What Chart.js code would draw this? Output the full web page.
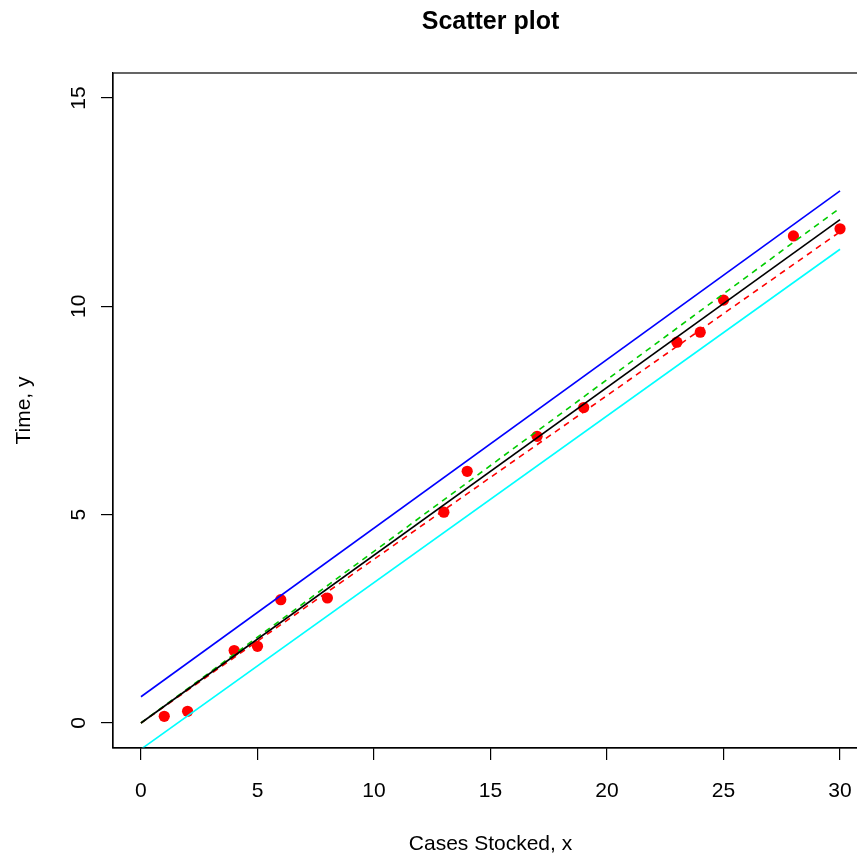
<!DOCTYPE html>
<html lang="en">
<head>
    <meta charset="UTF-8">
    <title>Scatter plot</title>
    <script src="https://cdn.jsdelivr.net/npm/chart.js"></script>
    <style>
        html, body { margin: 0; padding: 0; overflow: hidden; background: #fff; }
        #scatterChart { position: absolute; left: 0; top: 0; }
    </style>
</head>
<body>

<canvas id="scatterChart" width="880" height="870"></canvas>

<script>
    // Shelf stocking data: cases stocked (x) and time in minutes (y)
    const casesStocked = [25, 6, 8, 17, 2, 13, 23, 30, 28, 14, 19, 4, 24, 1, 5];
    const timeTaken = [10.15, 2.96, 3.00, 6.88, 0.28, 5.06, 9.14, 11.86, 11.69, 6.04, 7.57, 1.74, 9.38, 0.16, 1.84];

    // Straight lines, read at x = 0 and x = 30
    const lineX = [0, 30];
    const fitLine = [0, 12.08];       // black
    const upperBand = [0.63, 12.77];  // blue
    const lowerBand = [-0.63, 11.37]; // cyan
    const upperSlope = [0, 12.36];    // green dashed
    const lowerSlope = [0, 11.79];    // red dashed

    // Axis ticks
    const xTicks = [0, 5, 10, 15, 20, 25, 30];
    const yTicks = [0, 5, 10, 15];

    const fontFamily = "'Liberation Sans', Arial, Helvetica, sans-serif";

    function toPoints(xs, ys) {
        return xs.map((x, i) => ({ x: x, y: ys[i] }));
    }

    function lineSet(ys, color, dash) {
        return {
            type: 'line',
            data: toPoints(lineX, ys),
            borderColor: color,
            borderWidth: 1.6,
            borderDash: dash || [],
            pointRadius: 0,
            fill: false,
            tension: 0
        };
    }

    // Box around the plot region, like R's box()
    const plotBox = {
        id: 'plotBox',
        afterDraw(chart) {
            const a = chart.chartArea;
            const ctx = chart.ctx;
            ctx.save();
            ctx.strokeStyle = '#000';
            ctx.lineWidth = 1.2;
            ctx.strokeRect(a.left, a.top, a.right - a.left, a.bottom - a.top);
            ctx.restore();
        }
    };

    const ctx = document.getElementById('scatterChart').getContext('2d');
    const chart = new Chart(ctx, {
        type: 'scatter',
        data: {
            datasets: [
                lineSet(fitLine, '#000000'),
                lineSet(upperBand, '#0000FF'),
                lineSet(lowerBand, '#00FFFF'),
                lineSet(upperSlope, '#00CD00', [6, 5]),
                lineSet(lowerSlope, '#FF0000', [6, 5]),
                {
                    type: 'scatter',
                    data: toPoints(casesStocked, timeTaken),
                    backgroundColor: '#FF0000',
                    borderColor: '#FF0000',
                    borderWidth: 0,
                    pointRadius: 5.6
                }
            ]
        },
        options: {
            responsive: false,
            animation: false,
            devicePixelRatio: 1,
            layout: { padding: { left: 0, top: 0, right: 12, bottom: 0 } },
            plugins: {
                legend: { display: false },
                tooltip: { enabled: false },
                title: {
                    display: true,
                    fullSize: false,
                    text: 'Scatter plot',
                    color: '#000',
                    font: { family: fontFamily, size: 25, weight: 'bold' },
                    padding: { top: 7, bottom: 36 }
                }
            },
            scales: {
                x: {
                    type: 'linear',
                    min: -1.2,
                    max: 31.2,
                    afterBuildTicks: s => { s.ticks = xTicks.map(v => ({ value: v })); },
                    afterFit: s => { s.height = 122; },
                    grid: { drawOnChartArea: false, drawTicks: true, tickLength: 12, color: '#000', lineWidth: 1.2 },
                    border: { display: true, color: '#000', width: 1.2 },
                    ticks: {
                        autoSkip: false,
                        maxRotation: 0,
                        padding: 19,
                        color: '#000',
                        font: { family: fontFamily, size: 21 }
                    },
                    title: {
                        display: true,
                        text: 'Cases Stocked, x',
                        color: '#000',
                        font: { family: fontFamily, size: 21 },
                        padding: { top: 0, bottom: 13 }
                    }
                },
                y: {
                    type: 'linear',
                    min: -0.6,
                    max: 15.6,
                    afterBuildTicks: s => { s.ticks = yTicks.map(v => ({ value: v })); },
                    afterFit: s => { s.width = 113; },
                    grid: { drawOnChartArea: false, drawTicks: true, tickLength: 12, color: '#000', lineWidth: 1.2 },
                    border: { display: true, color: '#000', width: 1.2 },
                    ticks: {
                        autoSkip: false,
                        minRotation: 90,
                        maxRotation: 90,
                        crossAlign: 'center',
                        padding: 10,
                        color: '#000',
                        font: { family: fontFamily, size: 21 }
                    },
                    title: {
                        display: true,
                        text: 'Time, y',
                        color: '#000',
                        font: { family: fontFamily, size: 21 },
                        padding: { top: 12, bottom: 0 }
                    }
                }
            }
        },
        plugins: [plotBox]
    });
</script>

</body>
</html>
